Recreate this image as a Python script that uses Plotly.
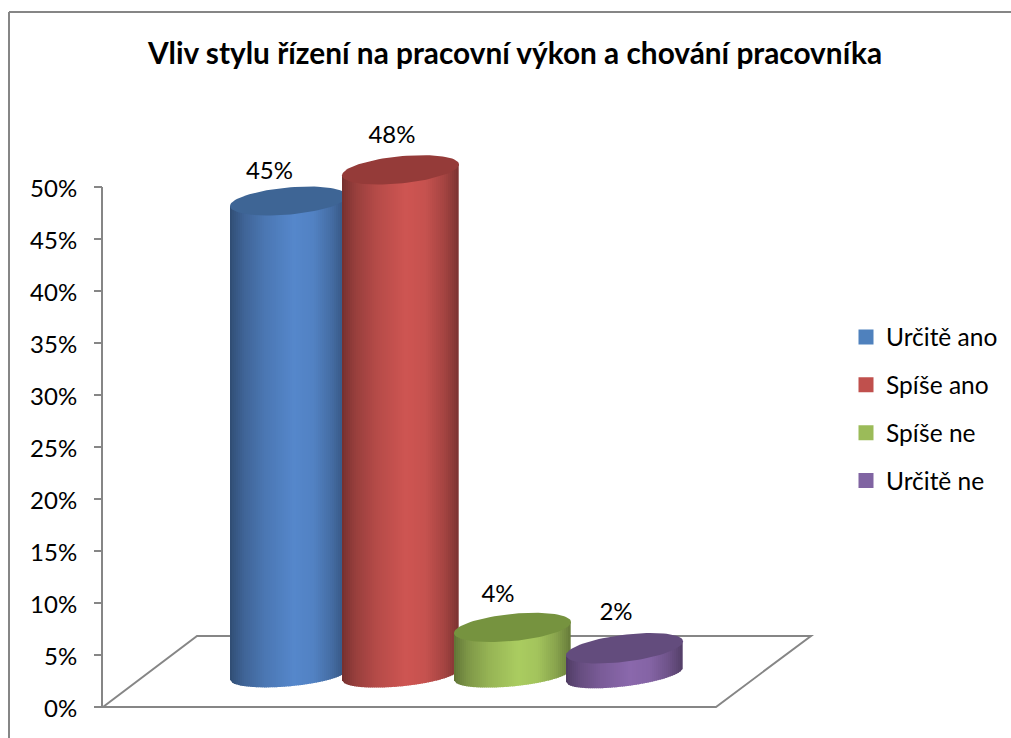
import math
import plotly.graph_objects as go

# Chart content
title = "Vliv stylu řízení na pracovní výkon a chování pracovníka"
categories = ["Určitě ano", "Spíše ano", "Spíše ne", "Určitě ne"]
values = [45, 48, 4, 2]
y_ticks = [0, 5, 10, 15, 20, 25, 30, 35, 40, 45, 50]

# Palette: legend swatch, brightest side colour, top cap
swatch_colors = ["#4F81BD", "#C0504D", "#9BBB59", "#8064A2"]
side_colors = [(85, 135, 203), (206, 85, 82), (170, 204, 96), (138, 104, 172)]
cap_colors = ["#3E6595", "#953B39", "#76933F", "#634C7D"]

# Page geometry in pixels
WIDTH, HEIGHT = 1011, 738
AXIS_X = 102
Y0_PX, Y50_PX = 707, 187
PX_PER_UNIT = (Y0_PX - Y50_PX) / 50

# Cylinder geometry: x in pixels, y in axis units
centers = [288.5, 400.5, 512.5, 624.5]
RADIUS = 58.5
CAP_MINOR = 13.6 / PX_PER_UNIT
BASE_MINOR = 11.6 / PX_PER_UNIT
tilts = [5 / PX_PER_UNIT, 5.5 / PX_PER_UNIT, 5.5 / PX_PER_UNIT, 7 / PX_PER_UNIT]
BASE_LEVEL = 3.1     # height of the base ellipse centre above the axis zero
CAP_LIFT = 0.55      # projection lift of the top cap
label_dx = [-19, -8.5, -14.5, -8.5]
label_lift = [6.3, 6.8, 6.7, 6.9]
STRIP = 2.0

# Horizontal shading across a cylinder as (position, brightness)
shade_stops = [(0, .56), (.03, .62), (.12, .74), (.3, .88), (.55, 1.0), (.72, .96), (.88, .8), (.97, .66), (1, .6)]

GREY = "#868686"
FONT = "Lato"


def shade(base, t):
    for (t0, f0), (t1, f1) in zip(shade_stops, shade_stops[1:]):
        if t <= t1:
            f = f0 + (f1 - f0) * (t - t0) / (t1 - t0)
            break
    return "rgb({},{},{})".format(*[round(c * f) for c in base])


def lower_arc(cx, level, tilt, x):
    u = max(-1.0, min(1.0, (x - cx) / RADIUS))
    return level + tilt * u - BASE_MINOR * math.sqrt(max(0.0, 1 - u * u))


def cap_outline(cx, level, tilt, n=90):
    xs, ys = [], []
    for i in range(n + 1):
        a = 2 * math.pi * i / n
        u = math.cos(a)
        xs.append(cx + RADIUS * u)
        ys.append(level + tilt * u + CAP_MINOR * math.sin(a))
    return xs, ys


fig = go.Figure()

for i, (name, value) in enumerate(zip(categories, values)):
    cx, tilt = centers[i], tilts[i]
    top_level = BASE_LEVEL + CAP_LIFT + value
    # The cylinder side is a run of narrow filled strips with changing shade
    n_strips = int(2 * RADIUS / STRIP)
    for s in range(n_strips):
        x0 = cx - RADIUS + s * STRIP
        x1 = min(x0 + STRIP + 0.7, cx + RADIUS)
        ux0, ux1 = (x0 - cx) / RADIUS, (x1 - cx) / RADIUS
        fig.add_trace(go.Scatter(
            x=[x0, x1, x1, x0, x0],
            y=[lower_arc(cx, BASE_LEVEL, tilt, x0), lower_arc(cx, BASE_LEVEL, tilt, x1),
               top_level + tilt * ux1, top_level + tilt * ux0,
               lower_arc(cx, BASE_LEVEL, tilt, x0)],
            mode="lines", line=dict(width=0), fill="toself",
            fillcolor=shade(side_colors[i], (s + .5) / n_strips),
            hoverinfo="skip", showlegend=False,
        ))
    cap_x, cap_y = cap_outline(cx, top_level, tilt)
    fig.add_trace(go.Scatter(
        x=cap_x, y=cap_y, mode="lines", line=dict(width=0), fill="toself",
        fillcolor=cap_colors[i], name=name, hoverinfo="name",
        showlegend=False,
    ))

# Value labels above each cylinder
fig.add_trace(go.Scatter(
    x=[c + d for c, d in zip(centers, label_dx)],
    y=[v + lift for v, lift in zip(values, label_lift)],
    text=[f"{v}%" for v in values],
    mode="text", textposition="middle center",
    textfont=dict(family=FONT, size=24, color="#000000"),
    hoverinfo="skip", showlegend=False,
))

# Legend entries with square swatches
for i, name in enumerate(categories):
    fig.add_trace(go.Scatter(
        x=[None], y=[None], mode="markers", name=name, legendgroup=name,
        marker=dict(symbol="square", size=15, color=swatch_colors[i]),
    ))

# Floor of the chart, behind the cylinders
floor_x = [103, 197, 811, 716, 103]
floor_y = [0, (Y0_PX - 636) / PX_PER_UNIT, (Y0_PX - 636) / PX_PER_UNIT, 0, 0]
floor_path = "M " + " L ".join(f"{x},{y}" for x, y in zip(floor_x, floor_y)) + " Z"

grey_line = dict(color=GREY, width=2)
shapes = [
    # Outer frame of the chart area, running off the page on the right and at the bottom
    dict(type="line", xref="x", yref="paper", x0=9, x1=9, y0=0, y1=(HEIGHT - 12) / HEIGHT,
         line=grey_line, layer="below"),
    dict(type="line", xref="x", yref="paper", x0=9, x1=WIDTH, y0=(HEIGHT - 12) / HEIGHT,
         y1=(HEIGHT - 12) / HEIGHT, line=grey_line, layer="below"),
    dict(type="path", path=floor_path, xref="x", yref="y",
         line=grey_line, fillcolor="#FFFFFF", layer="below"),
    # Vertical axis line, limited to the labelled span
    dict(type="line", xref="x", yref="y", x0=AXIS_X, x1=AXIS_X, y0=0, y1=50,
         line=grey_line, layer="below"),
]

fig.update_layout(
    width=WIDTH, height=HEIGHT,
    margin=dict(l=0, r=0, t=0, b=0),
    paper_bgcolor="#FFFFFF", plot_bgcolor="rgba(0,0,0,0)",
    font=dict(family=FONT, color="#000000"),
    hovermode="closest",
    title=dict(text=f"<b>{title}</b>", x=515 / WIDTH, xanchor="center",
               y=1 - 54 / HEIGHT, yanchor="middle",
               font=dict(family=FONT, size=29.8, color="#000000")),
    xaxis=dict(range=[0, WIDTH], visible=False, domain=[0, 1], fixedrange=True),
    yaxis=dict(
        range=[(Y0_PX - HEIGHT) / PX_PER_UNIT, Y0_PX / PX_PER_UNIT], domain=[0, 1],
        anchor="free", position=AXIS_X / WIDTH,
        tickvals=y_ticks, ticktext=[f"{v}%" for v in y_ticks],
        ticks="outside", ticklen=8, tickwidth=2, tickcolor=GREY,
        ticklabelstandoff=12, ticklabelshift=2,
        showline=False,
        showgrid=False, zeroline=False, fixedrange=True,
        tickfont=dict(family=FONT, size=24, color="#000000"),
    ),
    legend=dict(
        x=846 / WIDTH, xanchor="left", y=1 - 409 / HEIGHT, yanchor="middle",
        font=dict(family=FONT, size=24.5, color="#000000"),
        tracegroupgap=13, itemsizing="trace", bgcolor="rgba(0,0,0,0)",
    ),
    shapes=shapes,
)

fig.write_html("out.html", config=dict(displayModeBar=False))
